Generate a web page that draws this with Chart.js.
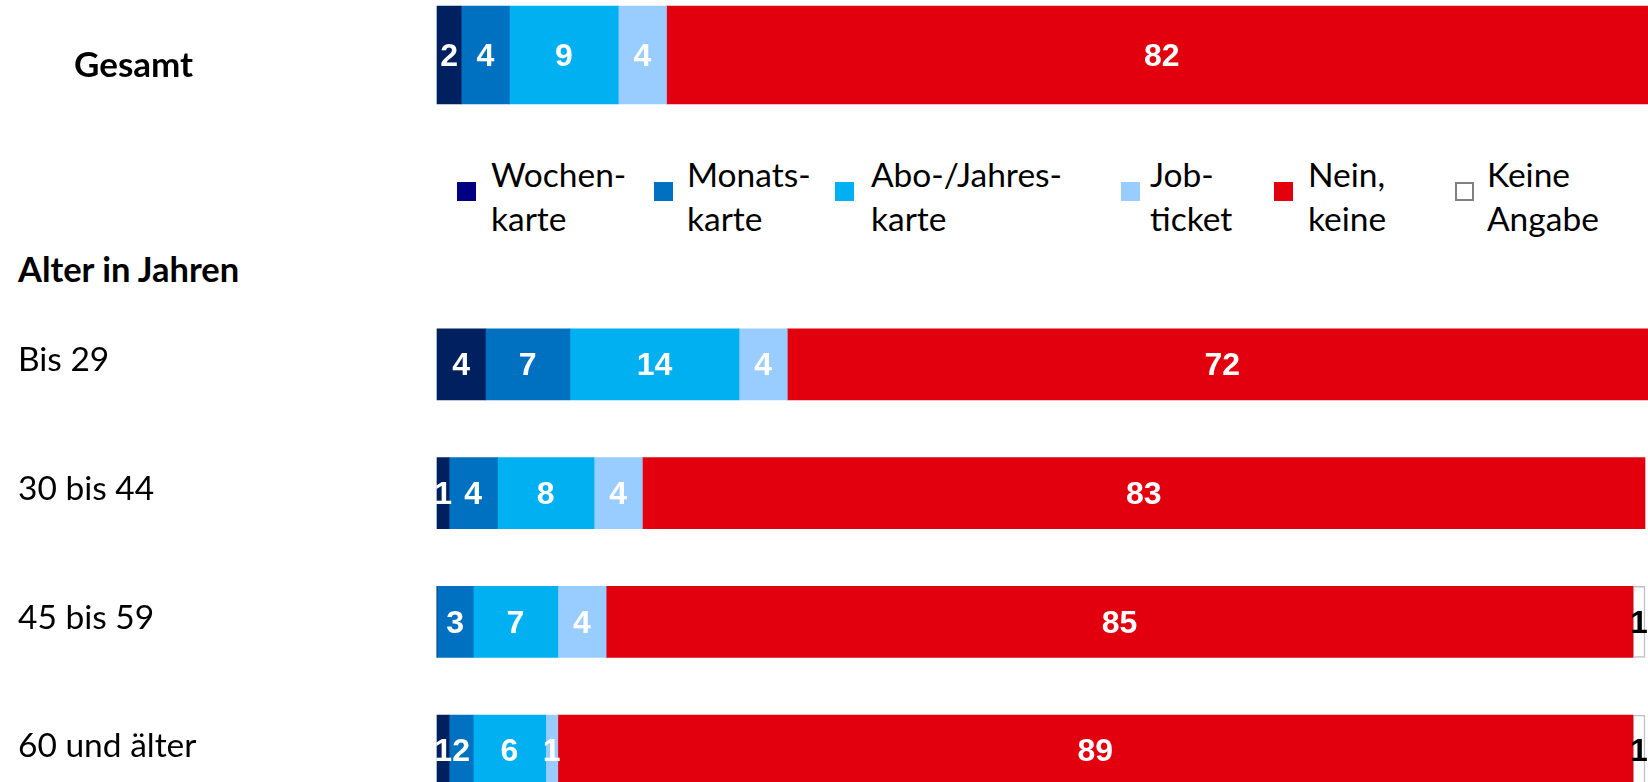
<!DOCTYPE html>
<html>
<head>
<meta charset="utf-8">
<script src="https://cdn.jsdelivr.net/npm/chart.js@4.4.1/dist/chart.umd.min.js"></script>
<style>
    html, body { margin: 0; padding: 0; background: #fff; overflow: hidden; }
    body { width: 1648px; height: 782px; position: relative; font-family: Lato, sans-serif; }
    .box { position: absolute; left: 0; width: 1648px; }
    #heading { position: absolute; left: 18px; top: 253px; font: bold 34.5px/32px Lato, sans-serif; color: #000; }
    .item { position: absolute; top: 154px; }
    .item .mark { position: absolute; left: 0; top: 28px; width: 19px; height: 19px; box-sizing: border-box; }
    .item .txt { position: absolute; top: -2px; white-space: nowrap; font: 33.5px/44px Lato, sans-serif; color: #000; }
</style>
</head>
<body>
<div class="box" style="top:0;height:110px"><canvas id="totalChart"></canvas></div>
<div id="heading">Alter in Jahren</div>
<div id="legend"></div>
<div class="box" style="top:300px;height:515px"><canvas id="ageChart"></canvas></div>
<script>
const seriesNames = [['Wochen-', 'karte'], ['Monats-', 'karte'], ['Abo-/Jahres-', 'karte'], ['Job-', 'ticket'], ['Nein,', 'keine'], ['Keine', 'Angabe']];
const barColors = ['#002060', '#0070C0', '#00B0F0', '#99CCFF', '#E2000F', '#FFFFFF'];
const legendColors = ['#000080', '#0070C0', '#00B0F0', '#99CCFF', '#E2000F', '#FFFFFF'];

const totalLabels = ['Gesamt'];
const gesamt = [2, 4, 9, 4, 82, 0];

const ageLabels = ['Bis 29', '30 bis 44', '45 bis 59', '60 und älter'];
const wochenkarte = [4, 1, 0, 1];
const monatskarte = [7, 4, 3, 2];
const aboJahreskarte = [14, 8, 7, 6];
const jobticket = [4, 4, 4, 1];
const neinKeine = [72, 83, 85, 89];
const keineAngabe = [0, 0, 1, 1];

// legend: marker left / text left
const legendPos = [[457, 491], [654, 687], [835, 871], [1121, 1150], [1274, 1308], [1455, 1487]];

const legendEl = document.getElementById('legend');
seriesNames.forEach((name, i) => {
    const it = document.createElement('div');
    it.className = 'item';
    it.style.left = legendPos[i][0] + 'px';
    const mark = document.createElement('div');
    mark.className = 'mark';
    mark.style.background = legendColors[i];
    if (i === 5) mark.style.border = '2px solid #808080';
    const txt = document.createElement('div');
    txt.className = 'txt';
    txt.style.left = (legendPos[i][1] - legendPos[i][0]) + 'px';
    txt.innerHTML = name.join('<br>');
    it.appendChild(mark);
    it.appendChild(txt);
    legendEl.appendChild(it);
});

// value labels in the middle of each segment
const barLabels = {
    id: 'barLabels',
    afterDatasetsDraw(chart) {
        const ctx = chart.ctx;
        ctx.save();
        ctx.font = 'bold 32px "Liberation Sans", Arial, sans-serif';
        ctx.textAlign = 'center';
        ctx.textBaseline = 'middle';
        chart.data.datasets.forEach((ds, i) => {
            chart.getDatasetMeta(i).data.forEach((bar, j) => {
                const v = ds.data[j];
                if (!v) return;
                ctx.fillStyle = i === 5 ? '#000' : '#fff';
                ctx.fillText(v, (bar.x + bar.base) / 2, bar.y + 2);
            });
        });
        ctx.restore();
    }
};

function makeDatasets(rows) {
    return rows.map((data, i) => ({
        label: seriesNames[i].join(' '),
        data: data,
        backgroundColor: barColors[i],
        borderColor: i === 5 ? '#BFBFBF' : barColors[i],
        borderWidth: i === 5 ? 1.5 : 0,
        borderSkipped: false,
        clip: false
    }));
}

function makeOptions(thickness, padLeft, axisWidth, labelFont, labelOffset) {
    return {
        indexAxis: 'y',
        responsive: true,
        maintainAspectRatio: false,
        animation: false,
        layout: { padding: { left: padLeft, right: 3, top: 0, bottom: 0 } },
        datasets: { bar: { barThickness: thickness } },
        plugins: { legend: { display: false }, tooltip: { enabled: false } },
        scales: {
            x: { stacked: true, min: 0, max: 100, display: false },
            y: {
                stacked: true,
                grid: { display: false },
                border: { display: false },
                ticks: { crossAlign: 'far', color: '#000', font: labelFont, labelOffset: labelOffset, padding: 0 },
                afterFit(scale) {
                    scale.width = axisWidth;
                    scale.paddingTop = 0;
                    scale.paddingBottom = 0;
                }
            }
        }
    };
}

new Chart(document.getElementById('totalChart'), {
    type: 'bar',
    data: {
        labels: totalLabels,
        datasets: makeDatasets(gesamt.map(v => [v]))
    },
    options: makeOptions(98, 74, 363, { family: 'Lato', size: 35, weight: 'bold' }, 11),
    plugins: [barLabels]
});

new Chart(document.getElementById('ageChart'), {
    type: 'bar',
    data: {
        labels: ageLabels,
        datasets: makeDatasets([wochenkarte, monatskarte, aboJahreskarte, jobticket, neinKeine, keineAngabe])
    },
    options: makeOptions(71, 18, 419, { family: 'Lato', size: 33.5 }, -4),
    plugins: [barLabels]
});
</script>
</body>
</html>
